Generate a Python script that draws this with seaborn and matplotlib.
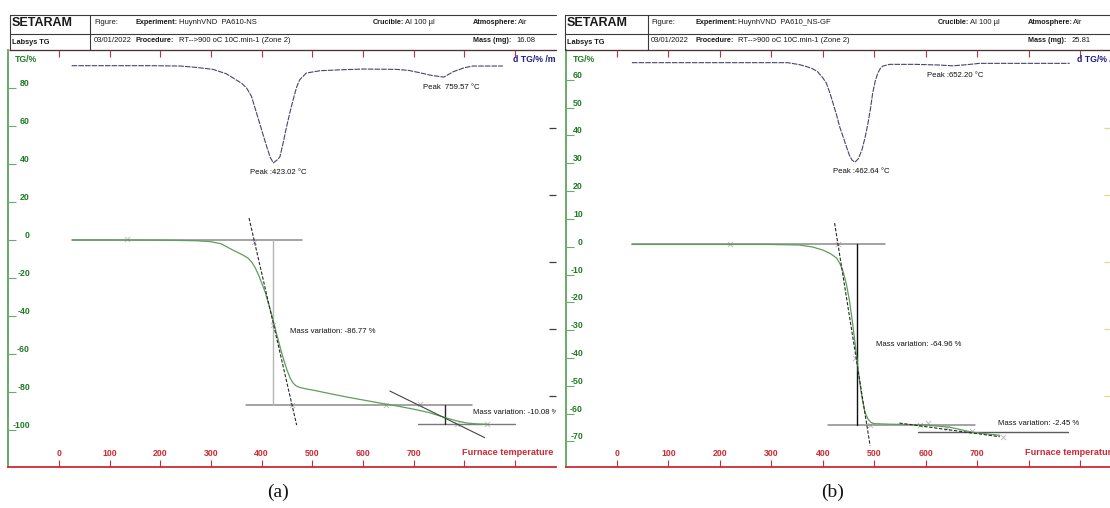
import matplotlib
matplotlib.use("Agg")
import matplotlib.pyplot as plt
from matplotlib.lines import Line2D
from matplotlib.text import Annotation
import seaborn as sns

# ---------------- data ----------------
temp_ticks = [0, 100, 200, 300, 400, 500, 600, 700, 800, 900]
temp_ticklabels = ["0", "100", "200", "300", "400", "500", "600", "700", "", ""]
tg_ticks_a = [80, 60, 40, 20, 0, -20, -40, -60, -80, -100]
tg_ticks_b = [60, 50, 40, 30, 20, 10, 0, -10, -20, -30, -40, -50, -60, -70]
dtg_ticks = [-10, -20, -30, -40, -50]

# (a) PA610-NS : TG curve
a_tg_T = [26, 100, 200, 250, 272, 300, 320, 343, 360, 373, 380, 387, 394, 400, 407, 413,
          420, 426, 432, 438, 444, 450, 456, 462, 468, 475, 488, 501, 530, 567, 600, 633,
          666, 699, 730, 765, 785, 804, 825, 845]
a_tg = [0.0, 0.0, -0.1, -0.3, -0.4, -0.9, -2.0, -5.3, -7.5, -9.5, -11.5, -14.5, -18.5, -22.6,
        -27.5, -33.2, -39.5, -45.8, -52.0, -58.0, -63.5, -68.5, -72.5, -75.3, -76.8, -77.6,
        -78.4, -79.0, -80.6, -82.6, -84.2, -85.8, -87.3, -89.0, -90.8, -93.7, -95.2, -96.3,
        -96.8, -97.0]
# (a) DTG curve (%/min)
a_dtg_T = [25, 100, 180, 239, 270, 304, 330, 343, 360, 370, 380, 390, 400, 410, 417, 423.02,
           430, 436, 443, 449, 456, 462, 469, 475, 488, 515, 560, 600, 666, 690, 712, 735,
           759.57, 778, 800, 817, 876]
a_dtg = [-0.7, -0.7, -0.7, -0.75, -0.95, -1.25, -1.9, -2.5, -3.3, -4.0, -5.3, -7.8, -10.3,
         -12.8, -14.4, -15.2, -14.8, -14.3, -12.0, -9.85, -7.6, -5.8, -3.9, -2.8, -1.8, -1.45,
         -1.3, -1.2, -1.25, -1.4, -1.75, -2.15, -2.4, -1.6, -1.0, -0.75, -0.75]
# (a) evaluation: onset plateau, step levels, tangents
a_mass_var = [-86.77, -10.08]
a_peaks = [423.02, 759.57]
a_step_T = [422, 761]
a_tan1_T = [375, 469]
a_tan1 = [11.6, -97.4]
a_tan2_T = [653, 840]
a_tan2 = [-79.5, -104.0]
a_marks_T = [134, 385, 422, 460, 646, 712, 785, 844]
a_marks = [0.5, -0.9, -44.7, -86.8, -86.8, -86.4, -96.9, -96.9]

# (b) PA610_NS-GF : TG curve
b_tg_T = [29, 100, 200, 300, 355, 380, 400, 415, 427, 434, 440, 446, 452, 458, 464, 470,
          476, 482, 488, 494, 500, 530, 594, 647, 691, 744]
b_tg = [0.8, 0.8, 0.8, 0.8, 0.6, -0.1, -1.2, -2.5, -4.1, -6.3, -9.2, -13.5, -19.5, -27.5,
        -36.5, -46.0, -54.0, -59.5, -62.0, -63.2, -63.6, -63.8, -64.0, -64.9, -66.7, -67.8]
# (b) DTG curve (%/min)
b_dtg_T = [29, 150, 250, 332, 355, 369, 380, 390, 400, 407, 414, 420, 427, 433, 440, 446,
           452, 457, 462.64, 469, 476, 482, 488, 493, 497, 502, 507, 512, 517, 530, 580,
           627, 652.2, 680, 705, 800, 880]
b_dtg = [-0.25, -0.25, -0.25, -0.25, -0.55, -0.85, -1.15, -1.6, -2.5, -3.3, -4.8, -6.3, -8.1,
         -9.85, -11.4, -12.8, -14.1, -14.8, -15.1, -14.6, -13.3, -11.5, -9.25, -7.0, -4.8,
         -3.0, -1.8, -1.1, -0.75, -0.5, -0.5, -0.6, -0.72, -0.55, -0.35, -0.35, -0.35]
b_mass_var = [-64.96, -2.45]
b_peaks = [462.64, 652.20]
b_start_level = 0.8
b_step_T = [466]
b_tan1_T = [423, 492]
b_tan1 = [8.5, -71.5]
b_tan2_T = [549, 744]
b_tan2 = [-63.4, -68.3]
b_marks_T = [220, 430, 463, 491, 589, 605, 642, 690, 750]
b_marks = [0.8, 0.8, -40.0, -64.2, -64.2, -63.4, -65.0, -66.1, -68.5]

# header fields: (label, value) per row
header_a_row1 = [("", "Figure:"), ("Experiment:", "HuynhVND  PA610-NS"),
                 ("Crucible:", "Al 100 µl"), ("Atmosphere:", "Air")]
header_a_row2 = [("", "03/01/2022"), ("Procedure:", "RT-->900 oC 10C.min-1 (Zone 2)"),
                 ("Mass (mg):", "16.08")]
header_b_row1 = [("", "Figure:"), ("Experiment:", "HuynhVND  PA610_NS-GF"),
                 ("Crucible:", "Al 100 µl"), ("Atmosphere:", "Air")]
header_b_row2 = [("", "03/01/2022"), ("Procedure:", "RT-->900 oC 10C.min-1 (Zone 2)"),
                 ("Mass (mg):", "25.81")]

# ---------------- style ----------------
sns.set_theme(style="white")
plt.rcParams["font.family"] = ["Liberation Sans", "DejaVu Sans"]

W, H = 1110, 508
RED = "#cc2a36"
GREEN = "#1f7a23"
GREEN_AX = "#6aaa6a"
NAVY = "#1c1c8c"
CURVE_TG = "#5e9e5e"
CURVE_DTG = "#45456a"
REF = "#8a8a8a"
DARK = "#2a2a2a"
MARK = "#b8b8b8"

fig = plt.figure(figsize=(W / 100, H / 100), dpi=100)


def fx(x):
    return x / W


def fy(y):
    return 1 - y / H


def make_panel(box, x0px, sx, y0px, sy, tg_ticks, ylab_pad, dtg_color):
    """box = (left, top, right, bottom) in pixels; x0px/y0px = pixel of T=0 / TG=0."""
    l, t, r, b = box
    ax = fig.add_axes([fx(l), fy(b), (r - l) / W, (b - t) / H])
    ax.set_xlim((l - x0px) / sx, (r - x0px) / sx)
    ax.set_ylim((y0px - b) / sy, (y0px - t) / sy)
    ax.set_facecolor("white")
    ax.grid(False)
    for side, col, lw in (("left", GREEN_AX, 1.4), ("bottom", RED, 1.3), ("top", "#d87a82", 1.0)):
        ax.spines[side].set_color(col)
        ax.spines[side].set_linewidth(lw)
    ax.spines["right"].set_visible(False)

    ax.set_xticks(temp_ticks)
    ax.set_xticklabels(temp_ticklabels, color=RED, fontweight="bold", fontsize=6.3, va="center")
    ax.tick_params(axis="x", direction="in", length=5, width=0.8, color=RED, pad=-10,
                   top=True, bottom=True, labeltop=False)
    ax.set_yticks(tg_ticks)
    ax.set_yticklabels([str(v) for v in tg_ticks], color=GREEN, fontweight="bold",
                       fontsize=6.3, va="bottom")
    ax.tick_params(axis="y", direction="in", length=6, width=0.8, color=GREEN_AX,
                   pad=ylab_pad, left=True, right=False)
    ax.set_xlabel("")
    ax.set_ylabel("")

    # DTG scale on the right-hand side
    ax2 = ax.twinx()
    ax2.set_ylim((61 - b) / 6.7, (61 - t) / 6.7)
    ax2.set_yticks(dtg_ticks)
    ax2.set_yticklabels([])
    ax2.tick_params(axis="y", direction="in", length=5, width=0.9, color=dtg_color,
                    right=True, left=False)
    for s in ax2.spines.values():
        s.set_visible(False)
    ax2.grid(False)
    ax2.set_ylabel("")
    return ax, ax2


def hline(ax, x0, x1, y, color=REF, lw=1.1, ls="-"):
    sns.lineplot(x=[x0, x1], y=[y, y], ax=ax, color=color, lw=lw, ls=ls, sort=False,
                 estimator=None)


def vline(ax, x, y0, y1, color=REF, lw=1.0):
    sns.lineplot(x=[x, x], y=[y0, y1], ax=ax, color=color, lw=lw, sort=False, estimator=None)


def field(x, y, label, value, gap):
    """Bold field label followed directly by its value."""
    if label:
        t = fig.text(fx(x), fy(y), label, fontsize=5.2, fontweight="bold", ha="left",
                     va="center", color="#1a1a1a")
        fig.add_artist(Annotation(value, xy=(1, 0.5), xycoords=t, xytext=(gap, 0),
                                  textcoords="offset points", fontsize=5.5, ha="left",
                                  va="center", color="#1a1a1a"))
    else:
        fig.text(fx(x), fy(y), value, fontsize=5.5, ha="left", va="center", color="#1a1a1a")


def header(x0, x1, xdiv, cols, row1, row2):
    for y in (15, 33.5, 50):
        fig.add_artist(Line2D([fx(x0), fx(x1)], [fy(y), fy(y)], color="#3a3a3a", lw=0.8))
    for x in (x0, xdiv):
        fig.add_artist(Line2D([fx(x), fx(x)], [fy(15), fy(50)], color="#3a3a3a", lw=0.8))
    fig.text(fx(x0 + 2), fy(23.5), "SETARAM", fontsize=9, fontweight="bold", ha="left",
             va="center", color="#1a1a1a")
    fig.text(fx(x0 + 2), fy(42), "Labsys TG", fontsize=5.3, fontweight="bold", ha="left",
             va="center", color="#1a1a1a")
    gaps1 = [0, 0.3, 0.6, 0.3]
    for cx, (lab, val), g in zip(cols, row1, gaps1):
        field(cx, 23, lab, val, g)
    cols2 = [cols[0], cols[1], cols[3]]
    gaps2 = [0, 3.0, 4.0]
    for cx, (lab, val), g in zip(cols2, row2, gaps2):
        field(cx, 41, lab, val, g)


# ---------------- panel (a) ----------------
ax_a, ax_a2 = make_panel((8, 50, 556, 467), 59, 0.5067, 240, 1.9, tg_ticks_a, -15.8, "#3c3c3c")

hline(ax_a, 26, 479, 0.0)
hline(ax_a, 369, 815, a_mass_var[0])
hline(ax_a, 708, 899, a_mass_var[0] + a_mass_var[1], color="#7a7a7a", lw=1.0)
vline(ax_a, a_step_T[0], 0.0, a_mass_var[0], color="#b5b5b5", lw=1.0)
vline(ax_a, a_step_T[1], a_mass_var[0], a_mass_var[0] + a_mass_var[1], color=DARK, lw=1.0)
sns.lineplot(x=a_tg_T, y=a_tg, ax=ax_a, color=CURVE_TG, lw=0.9, sort=False, estimator=None)
sns.lineplot(x=a_tan1_T, y=a_tan1, ax=ax_a, color=DARK, lw=0.8, ls=(0, (3, 1.5)), sort=False,
             estimator=None)
sns.lineplot(x=a_tan2_T, y=a_tan2, ax=ax_a, color="#444444", lw=0.8, sort=False, estimator=None)
sns.scatterplot(x=a_marks_T, y=a_marks, ax=ax_a, marker="x", s=14, color=MARK, linewidth=0.6)
sns.lineplot(x=a_dtg_T, y=a_dtg, ax=ax_a2, color=CURVE_DTG, lw=0.8, ls=(0, (5, 1)), sort=False,
             estimator=None)

ann = dict(fontsize=5.6, color="#111111", ha="left", va="center")
ax_a.text(377, 35.3, f"Peak :{a_peaks[0]:.2f} °C", **ann)
ax_a2.text(718, -3.9, f"Peak  {a_peaks[1]:.2f} °C", **ann)
ax_a.text(456, -48.4, f"Mass variation: {a_mass_var[0]:.2f} %", **ann)
ax_a.text(818, -91.0, f"Mass variation: {a_mass_var[1]:.2f} %", clip_on=True, **ann)
ax_a.text(0.013, 0.977, "TG/%", transform=ax_a.transAxes, color=GREEN, fontweight="bold",
          fontsize=6.3, ha="left", va="center")
ax_a.text((513 - 8) / 548, 0.977, "d TG/% /min", transform=ax_a.transAxes, color=NAVY,
          fontweight="bold", fontsize=6.3, ha="left", va="center", clip_on=True)
ax_a.text(795, 0.034, "Furnace temperature /°C", transform=ax_a.get_xaxis_transform(),
          color=RED, fontweight="bold", fontsize=6.6, ha="left", va="center", clip_on=True)

header(10, 556, 90, [94, 136, 373, 473], header_a_row1, header_a_row2)

# ---------------- panel (b) ----------------
ax_b, ax_b2 = make_panel((566, 50, 1111, 467), 617, 0.5144, 246.7, 2.782, tg_ticks_b, -12.2,
                         "#e2d59a")

hline(ax_b, 29, 521, b_start_level)
hline(ax_b, 410, 696, b_start_level + b_mass_var[0])
hline(ax_b, 585, 877, b_start_level + b_mass_var[0] + b_mass_var[1], color="#5a5a5a", lw=1.0)
vline(ax_b, b_step_T[0], b_start_level, b_start_level + b_mass_var[0], color="#111111", lw=1.0)
sns.lineplot(x=b_tg_T, y=b_tg, ax=ax_b, color=CURVE_TG, lw=0.9, sort=False, estimator=None)
sns.lineplot(x=b_tan1_T, y=b_tan1, ax=ax_b, color=DARK, lw=0.8, ls=(0, (3, 1.5)), sort=False,
             estimator=None)
sns.lineplot(x=b_tan2_T, y=b_tan2, ax=ax_b, color=DARK, lw=0.8, ls=(0, (3, 1.5)), sort=False,
             estimator=None)
sns.scatterplot(x=b_marks_T, y=b_marks, ax=ax_b, marker="x", s=14, color=MARK, linewidth=0.6)
sns.lineplot(x=b_dtg_T, y=b_dtg, ax=ax_b2, color=CURVE_DTG, lw=0.8, ls=(0, (5, 1)), sort=False,
             estimator=None)

ax_b.text(419, 26.9, f"Peak :{b_peaks[0]:.2f} °C", **ann)
ax_b2.text(603, -2.1, f"Peak :{b_peaks[1]:.2f} °C", **ann)
ax_b.text(503, -35.3, f"Mass variation: {b_mass_var[0]:.2f} %", **ann)
ax_b.text(741, -63.4, f"Mass variation: {b_mass_var[1]:.2f} %", **ann)
ax_b.text(0.012, 0.977, "TG/%", transform=ax_b.transAxes, color=GREEN, fontweight="bold",
          fontsize=6.3, ha="left", va="center")
ax_b.text((1077 - 566) / 545, 0.977, "d TG/% /min", transform=ax_b.transAxes, color=NAVY,
          fontweight="bold", fontsize=6.3, ha="left", va="center", clip_on=True)
ax_b.text(793, 0.034, "Furnace temperature /°C", transform=ax_b.get_xaxis_transform(),
          color=RED, fontweight="bold", fontsize=6.6, ha="left", va="center", clip_on=True)

header(565, 1111, 648, [651, 695, 938, 1028], header_b_row1, header_b_row2)

# panel captions
for x, s in ((278, "(a)"), (833, "(b)")):
    fig.text(fx(x), fy(492), s, fontsize=14, ha="center", va="center",
             family=["Liberation Serif", "DejaVu Serif"], color="#111111")

fig.savefig("out.png", dpi=100, facecolor="white")
